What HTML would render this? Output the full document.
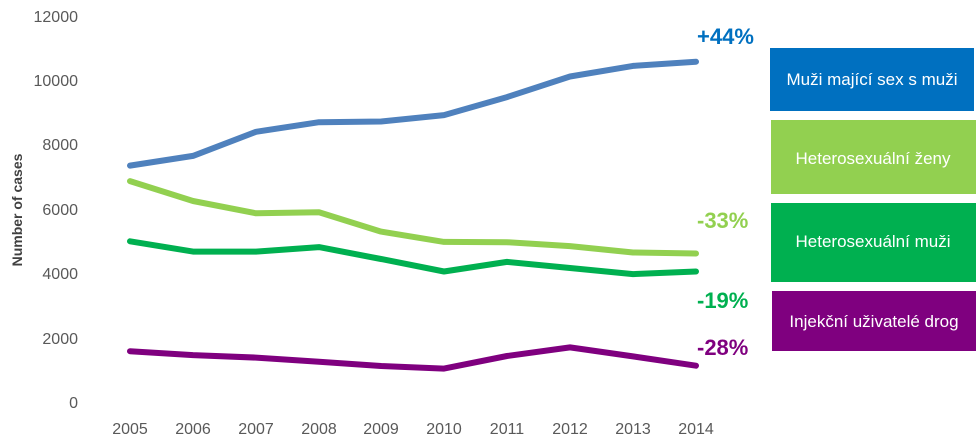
<!DOCTYPE html>
<html><head><style>body{margin:0;background:#fff}svg{display:block}</style></head><body>
<svg width="976" height="444" xmlns="http://www.w3.org/2000/svg" font-family="Liberation Sans, sans-serif">
<g font-size="16" fill="#595959" text-anchor="end">
<text x="78" y="408">0</text><text x="78" y="344">2000</text><text x="78" y="279">4000</text><text x="78" y="215">6000</text><text x="78" y="150">8000</text><text x="78" y="86">10000</text><text x="78" y="22">12000</text>
</g>
<g font-size="16" fill="#595959" text-anchor="middle">
<text x="130" y="434">2005</text><text x="193" y="434">2006</text><text x="256" y="434">2007</text><text x="319" y="434">2008</text><text x="381" y="434">2009</text><text x="444" y="434">2010</text><text x="507" y="434">2011</text><text x="570" y="434">2012</text><text x="633" y="434">2013</text><text x="696" y="434">2014</text>
</g>
<text transform="translate(22,210) rotate(-90)" font-size="14" font-weight="bold" fill="#404040" text-anchor="middle">Number of cases</text>
<g fill="none" stroke-width="6" stroke-linecap="round" stroke-linejoin="round">
<polyline stroke="#4f81bd" points="130,165.6 193,155.9 256,131.8 319,122.2 381,121.5 444,115.1 507,97.1 570,76.5 633,65.9 696,61.7"/>
<polyline stroke="#92d050" points="130,181.1 193,201.0 256,213.3 319,212.3 381,231.6 444,241.9 507,242.2 570,246.1 633,252.5 696,253.5"/>
<polyline stroke="#00b050" points="130,241.3 193,251.6 256,251.6 319,247.1 381,259.0 444,271.5 507,261.9 570,268.0 633,274.1 696,271.5"/>
<polyline stroke="#7f007f" points="130,351.2 193,355.1 256,357.6 319,361.8 381,366.0 444,368.6 507,356.0 570,347.4 633,356.4 696,365.7"/>
</g>
<g font-size="22" font-weight="bold">
<text x="697" y="44" fill="#0070c0">+44%</text>
<text x="697" y="228" fill="#92d050">-33%</text>
<text x="697" y="308" fill="#00b050">-19%</text>
<text x="697" y="355" fill="#7f007f">-28%</text>
</g>
<rect x="770" y="48" width="204" height="63" fill="#0070c0"/>
<rect x="771" y="120" width="205" height="74" fill="#92d050"/>
<rect x="771" y="203" width="205" height="79" fill="#00b050"/>
<rect x="772" y="291" width="204" height="60" fill="#7f007f"/>
<g font-size="17" fill="#fff" text-anchor="middle">
<text x="872" y="85">Muži mající sex s muži</text>
<text x="873" y="164">Heterosexuální ženy</text>
<text x="873" y="247">Heterosexuální muži</text>
<text x="874" y="327">Injekční uživatelé drog</text>
</g>
</svg>
</body></html>
